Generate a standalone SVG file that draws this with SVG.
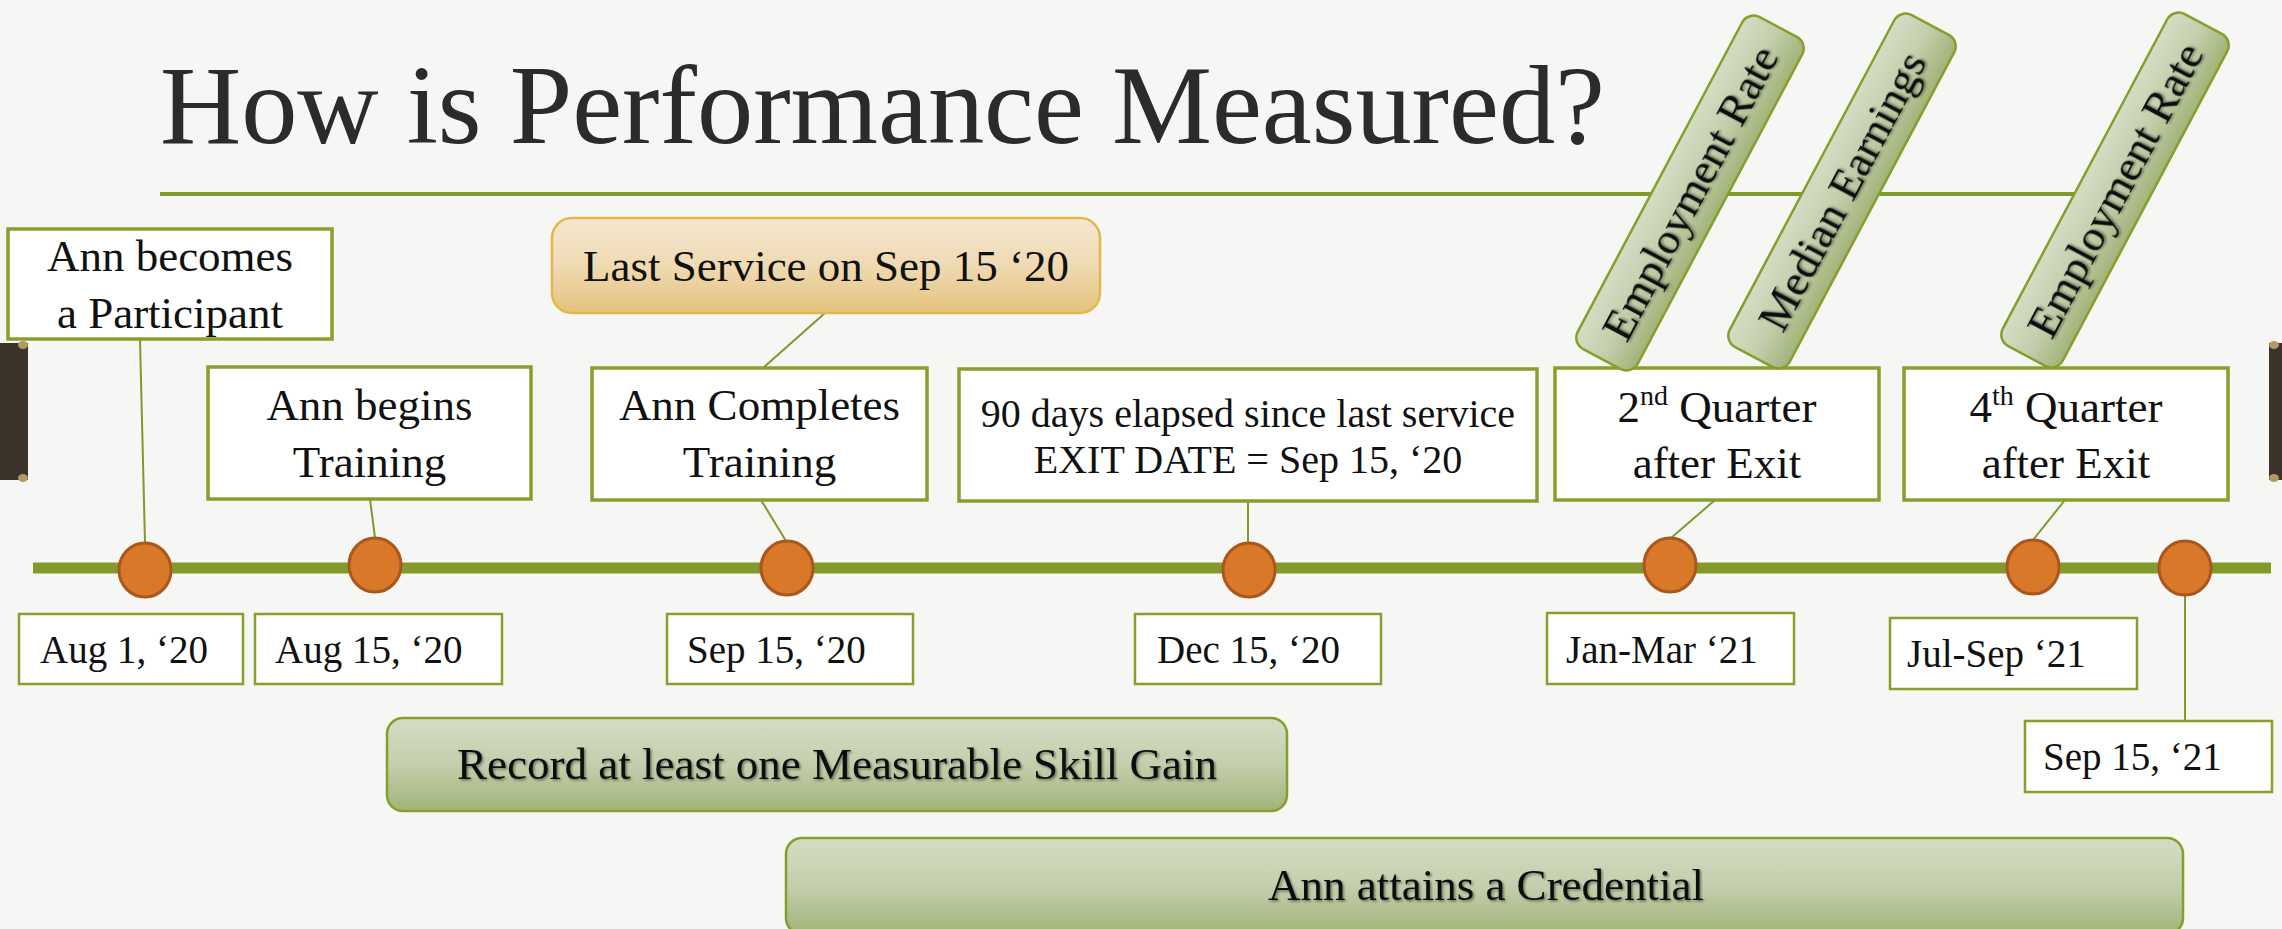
<svg xmlns="http://www.w3.org/2000/svg" width="2282" height="929" viewBox="0 0 2282 929">
<style>
text{font-family:"Liberation Serif","DejaVu Serif",serif;fill:#111;}
.box{fill:#ffffff;stroke:#87A02C;stroke-width:3.5;}
.dbox{fill:#ffffff;stroke:#87A02C;stroke-width:2.5;}
.con{stroke:#7E9A2A;stroke-width:2;fill:none;}
.dot{fill:#D97828;stroke:#A9571D;stroke-width:3;}
.bar{fill:url(#gGreen);stroke:#84A02A;stroke-width:2.5;}
.tag{fill:url(#gGreen);stroke:#84A02A;stroke-width:2.5;}
</style>
<defs>
<linearGradient id="gGreen" x1="0" y1="0" x2="0" y2="1">
<stop offset="0" stop-color="#D4DDC5"/>
<stop offset="0.5" stop-color="#C3CFAC"/>
<stop offset="1" stop-color="#A2B379"/>
</linearGradient>
<linearGradient id="gGold" x1="0" y1="0" x2="0" y2="1">
<stop offset="0" stop-color="#F4E7D2"/>
<stop offset="0.5" stop-color="#EFDAB2"/>
<stop offset="1" stop-color="#E5C27D"/>
</linearGradient>
<filter id="sh" x="-5%" y="-20%" width="110%" height="140%">
<feDropShadow dx="1.5" dy="1.5" stdDeviation="0.8" flood-color="#000" flood-opacity="0.45"/>
</filter>
</defs>
<rect width="2282" height="929" fill="#F6F6F4"/>

<g id="decor">
<rect x="0" y="343" width="28" height="137" fill="#3B3229"/>
<ellipse cx="23" cy="345" rx="5" ry="4" fill="#B59865"/>
<ellipse cx="23" cy="478" rx="5" ry="4" fill="#B59865"/>
<rect x="2269" y="343" width="13" height="137" fill="#3B3229"/>
<ellipse cx="2274" cy="345" rx="5" ry="4" fill="#B59865"/>
<ellipse cx="2274" cy="478" rx="5" ry="4" fill="#B59865"/>
</g>

<g id="title">
<text x="160" y="143" font-size="113" textLength="1445" lengthAdjust="spacingAndGlyphs" style="fill:#2B2B2B">How is Performance Measured?</text>
<line x1="160" y1="194" x2="2075" y2="194" stroke="#7F9A2A" stroke-width="4"/>
</g>

<g id="timeline">
<line x1="33" y1="568" x2="2271" y2="568" stroke="#83992B" stroke-width="11"/>
</g>

<g id="connectors">
<line class="con" x1="140" y1="339" x2="145" y2="543"/>
<line class="con" x1="370" y1="499" x2="375" y2="538"/>
<line class="con" x1="761" y1="500" x2="786" y2="541"/>
<line class="con" x1="763" y1="368" x2="825" y2="313"/>
<line class="con" x1="1248" y1="501" x2="1248" y2="543"/>
<line class="con" x1="1715" y1="500" x2="1671" y2="538"/>
<line class="con" x1="2065" y1="500" x2="2033" y2="540"/>
<line class="con" x1="2185" y1="596" x2="2185" y2="721"/>
</g>

<g id="dots">
<ellipse class="dot" cx="145" cy="570" rx="26" ry="27"/>
<ellipse class="dot" cx="375" cy="565" rx="26" ry="27"/>
<ellipse class="dot" cx="787" cy="568" rx="26" ry="27"/>
<ellipse class="dot" cx="1249" cy="570" rx="26" ry="27"/>
<ellipse class="dot" cx="1670" cy="565" rx="26" ry="27"/>
<ellipse class="dot" cx="2033" cy="567" rx="26" ry="27"/>
<ellipse class="dot" cx="2185" cy="568" rx="26" ry="27"/>
</g>

<g id="n-participant">
<rect class="box" x="8" y="229" width="324" height="110"/>
<text x="170" y="271" font-size="45" text-anchor="middle">Ann becomes</text>
<text x="170" y="328" font-size="45" text-anchor="middle">a Participant</text>
</g>
<g id="n-begins">
<rect class="box" x="208" y="367" width="323" height="132"/>
<text x="369.5" y="420" font-size="45" text-anchor="middle">Ann begins</text>
<text x="369.5" y="477" font-size="45" text-anchor="middle">Training</text>
</g>
<g id="n-completes">
<rect class="box" x="592" y="368" width="335" height="132"/>
<text x="759.5" y="420" font-size="45" text-anchor="middle">Ann Completes</text>
<text x="759.5" y="477" font-size="45" text-anchor="middle">Training</text>
</g>
<g id="n-lastservice">
<rect x="552" y="218" width="548" height="95" rx="20" fill="url(#gGold)" stroke="#E2B84B" stroke-width="2.5"/>
<text x="826" y="281" font-size="45" text-anchor="middle">Last Service on Sep 15 ‘20</text>
</g>
<g id="n-exit">
<rect class="box" x="959" y="369" width="578" height="132"/>
<text x="1248" y="427" font-size="40" text-anchor="middle">90 days elapsed since last service</text>
<text x="1248" y="473" font-size="40" text-anchor="middle">EXIT DATE = Sep 15, ‘20</text>
</g>
<g id="n-q2">
<rect class="box" x="1555" y="368" width="324" height="132"/>
<text x="1717" y="422" font-size="45" text-anchor="middle">2<tspan font-size="28" dy="-17">nd</tspan><tspan dy="17"> Quarter</tspan></text>
<text x="1717" y="478" font-size="45" text-anchor="middle">after Exit</text>
</g>
<g id="n-q4">
<rect class="box" x="1904" y="368" width="324" height="132"/>
<text x="2066" y="422" font-size="45" text-anchor="middle">4<tspan font-size="28" dy="-17">th</tspan><tspan dy="17"> Quarter</tspan></text>
<text x="2066" y="478" font-size="45" text-anchor="middle">after Exit</text>
</g>

<g id="tag-emp1" transform="translate(1690,193) rotate(-62)">
<rect class="tag" x="-188" y="-34" width="376" height="68" rx="13"/>
<text x="0" y="15" font-size="45" text-anchor="middle" filter="url(#sh)">Employment Rate</text>
</g>
<g id="tag-median" transform="translate(1842,191) rotate(-62)">
<rect class="tag" x="-188" y="-34" width="376" height="68" rx="13"/>
<text x="0" y="15" font-size="45" text-anchor="middle" filter="url(#sh)">Median Earnings</text>
</g>
<g id="tag-emp2" transform="translate(2115,190) rotate(-62)">
<rect class="tag" x="-188" y="-34" width="376" height="68" rx="13"/>
<text x="0" y="15" font-size="45" text-anchor="middle" filter="url(#sh)">Employment Rate</text>
</g>

<g id="d-aug1">
<rect class="dbox" x="19" y="614" width="224" height="70"/>
<text x="40" y="663" font-size="39">Aug 1, ‘20</text>
</g>
<g id="d-aug15">
<rect class="dbox" x="255" y="614" width="247" height="70"/>
<text x="275" y="663" font-size="39">Aug 15, ‘20</text>
</g>
<g id="d-sep15">
<rect class="dbox" x="667" y="614" width="246" height="70"/>
<text x="687" y="663" font-size="39">Sep 15, ‘20</text>
</g>
<g id="d-dec15">
<rect class="dbox" x="1135" y="614" width="246" height="70"/>
<text x="1157" y="663" font-size="39">Dec 15, ‘20</text>
</g>
<g id="d-janmar">
<rect class="dbox" x="1547" y="613" width="247" height="71"/>
<text x="1566" y="663" font-size="39">Jan-Mar ‘21</text>
</g>
<g id="d-julsep">
<rect class="dbox" x="1890" y="618" width="247" height="71"/>
<text x="1907" y="667" font-size="39">Jul-Sep ‘21</text>
</g>
<g id="d-sep21">
<rect class="dbox" x="2025" y="721" width="247" height="71"/>
<text x="2043" y="770" font-size="39">Sep 15, ‘21</text>
</g>

<g id="b-msg">
<rect class="bar" x="387" y="718" width="900" height="93" rx="16"/>
<text x="837" y="779" font-size="45" text-anchor="middle" filter="url(#sh)">Record at least one Measurable Skill Gain</text>
</g>
<g id="b-credential">
<rect class="bar" x="786" y="838" width="1397" height="96" rx="16"/>
<text x="1486" y="900" font-size="45" text-anchor="middle" filter="url(#sh)">Ann attains a Credential</text>
</g>
</svg>
